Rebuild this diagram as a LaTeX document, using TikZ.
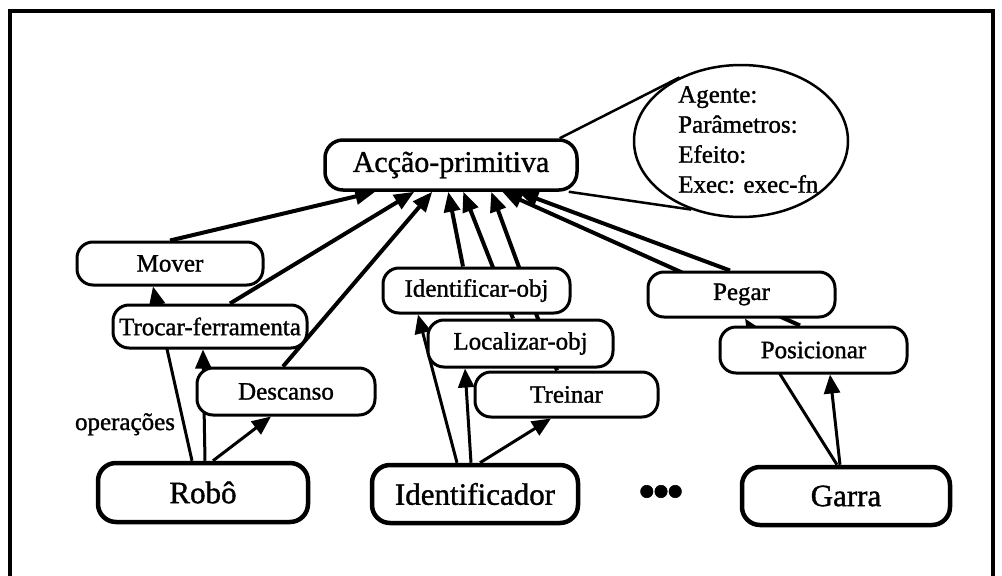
\documentclass[tikz,border=0pt]{standalone}
\usepackage{fontspec}
\setmainfont{Liberation Serif}[FakeBold=1.2]
\usetikzlibrary{arrows.meta,shapes.geometric,calc}
\pgfdeclarelayer{edges}
\pgfsetlayers{edges,main}

\begin{document}
\begin{tikzpicture}[x=1pt,y=-1pt,
  box/.style={draw, line width=3pt, rounded corners=16pt, fill=white,
    inner sep=0pt, font=\fontsize{25}{30}\selectfont},
  topbox/.style={box, line width=3.5pt, rounded corners=18pt,
    font=\fontsize{30}{36}\selectfont},
  agentbox/.style={box, line width=4.5pt, rounded corners=18pt,
    font=\fontsize{31}{36}\selectfont},
  isa/.style={line width=4pt, -{Triangle[length=20pt,width=16pt]}},
  op/.style={line width=3pt, -{Triangle[length=19pt,width=16pt]}},
  callout/.style={line width=2.5pt},
]
\useasboundingbox (0,0) rectangle (1002,576);

% open frame
\draw[line width=4pt] (10,576) -- (10,11) -- (993,11) -- (993,576);

% generic action and its slot description
\node[topbox, minimum width=252pt, minimum height=50pt] (acc) at (451,165) {Acção-primitiva};
\node[draw, ellipse, line width=2.5pt, minimum width=214pt, minimum height=152pt,
  inner sep=0pt] (slots) at (741,141) {};
\node[anchor=north west, align=left, inner sep=0pt,
  font=\fontsize{25}{30}\selectfont] (fields) at (678,86)
  {Agente:\\Parâmetros:\\Efeito:\\Exec: exec-fn};

% primitive actions
\node[box, minimum width=186pt, minimum height=43pt] (mover) at (170,263.5) {Mover};
\node[box, minimum width=194pt, minimum height=43pt] (trocar) at (210,326.5) {Trocar-ferramenta};
\node[box, minimum width=178pt, minimum height=47pt] (descanso) at (286,391.5) {Descanso};
\node[box, minimum width=187pt, minimum height=45pt] (identobj) at (476.5,290.5) {Identificar-obj};
\node[box, minimum width=185pt, minimum height=47pt] (localobj) at (520.5,343.5) {Localizar-obj};
\node[box, minimum width=183pt, minimum height=45pt] (treinar) at (566.5,394.5) {Treinar};
\node[box, minimum width=187pt, minimum height=45pt] (pegar) at (741.5,294.5) {Pegar};
\node[box, minimum width=187pt, minimum height=46pt] (posic) at (813.5,350) {Posicionar};

% agents
\node[agentbox, minimum width=210pt, minimum height=59pt] (robo) at (203,492.5) {Robô};
\node[agentbox, minimum width=206pt, minimum height=58pt] (ident) at (475,494) {Identificador};
\node[agentbox, minimum width=208pt, minimum height=58pt] (garra) at (846,496) {Garra};
\node[inner sep=0pt, font=\fontsize{52}{52}\selectfont] (more) at (661,497) {•\kern-4pt•\kern-4pt•};

\node[anchor=base, inner sep=0pt, font=\fontsize{25}{30}\selectfont] (ops) at (125,430) {operações};

\begin{pgfonlayer}{edges}
  % zoom lines to the slot ellipse
  \draw[callout] ([xshift=-19pt]acc.north east) -- (slots.134);
  \draw[callout] ([xshift=-10pt]acc.south east) -- (slots.234);

  % specialisations of the generic action
  \draw[isa] (mover.north) -- ([xshift=52pt]acc.south west);
  \draw[isa] ([xshift=20pt]trocar.north) -- ([xshift=91pt]acc.south west);
  \draw[isa] ([xshift=-3pt]descanso.north) -- ([xshift=109pt]acc.south west);
  \draw[isa] ([xshift=-13.5pt]identobj.north) -- ([xshift=125pt]acc.south west);
  \draw[isa] ([xshift=-7.5pt]localobj.north) -- ([xshift=140pt]acc.south west);
  \draw[isa] ([xshift=-9.5pt]treinar.north) -- ([xshift=168pt]acc.south west);
  \draw[isa] ([xshift=-13.5pt]posic.north) -- ([xshift=179pt]acc.south west);
  \draw[isa] ([xshift=-11.5pt]pegar.north) -- ([xshift=195pt]acc.south west);

  % operations of each agent
  \draw[op] ([xshift=-11pt]robo.north) -- ([xshift=-17pt]mover.south);
  \draw[op] ([xshift=2pt]robo.north) -- ([xshift=-7pt]trocar.south);
  \draw[op] ([xshift=10pt]robo.north) -- ([xshift=-15pt]descanso.south);
  \draw[op] ([xshift=-18pt]ident.north) -- ([xshift=-58.5pt]identobj.south);
  \draw[op] ([xshift=-4pt]ident.north) -- ([xshift=-55.5pt]localobj.south);
  \draw[op] ([xshift=5pt]ident.north) -- ([xshift=-15.5pt]treinar.south);
  \draw[op] ([xshift=-6pt]garra.north) -- ([xshift=16.5pt]posic.south);
  \draw[op] ([xshift=-9pt]garra.north) -- ([xshift=3.5pt]pegar.south);
\end{pgfonlayer}
\end{tikzpicture}
\end{document}
